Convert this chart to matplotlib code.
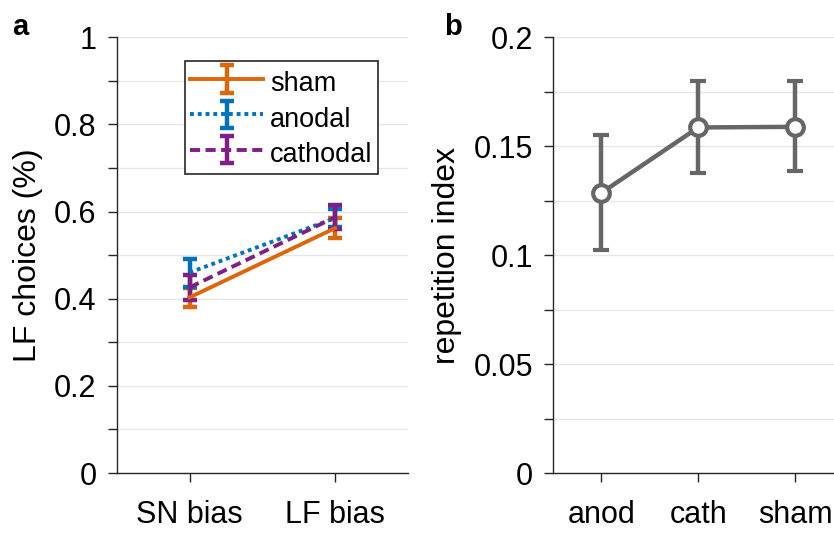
import numpy as np
import matplotlib
matplotlib.use("Agg")
import matplotlib.pyplot as plt

plt.rcParams['font.family'] = ['Liberation Sans', 'DejaVu Sans']

# panel a data
conditions = ['SN bias', 'LF bias']
groups = ['sham', 'anodal', 'cathodal']
sham_mean = [0.403, 0.562]
sham_err = [0.022, 0.023]
anodal_mean = [0.460, 0.585]
anodal_err = [0.032, 0.020]
cathodal_mean = [0.426, 0.587]
cathodal_err = [0.028, 0.028]
yticks_a = [0, 0.2, 0.4, 0.6, 0.8, 1]
ylabels_a = ['0', '0.2', '0.4', '0.6', '0.8', '1']

# panel b data
stim = ['anod', 'cath', 'sham']
rep_mean = [0.1286, 0.1586, 0.1589]
rep_lo = [0.1023, 0.1375, 0.1385]
rep_hi = [0.1550, 0.1800, 0.1798]
yticks_b = [0, 0.05, 0.1, 0.15, 0.2]
ylabels_b = ['0', '0.05', '0.1', '0.15', '0.2']

colors = {'sham': '#DD6608', 'anodal': '#0072BD', 'cathodal': '#7F1F86'}
styles = {'sham': '-', 'anodal': (0, (1, 1)), 'cathodal': (0, (2.6, 1.4))}
spine_col = '#262626'
grid_col = '#e6e6e6'

fig = plt.figure(figsize=(8.34, 5.4), dpi=100)
ax1 = fig.add_axes([0.140, 0.124, 0.349, 0.807])
ax2 = fig.add_axes([0.663, 0.124, 0.337, 0.807])


def style_axis(ax):
    for s in ['top', 'right']:
        ax.spines[s].set_visible(False)
    for s in ['left', 'bottom']:
        ax.spines[s].set_color(spine_col)
        ax.spines[s].set_linewidth(1.0)
    ax.tick_params(which='both', direction='out', length=6.5, width=1.0,
                   color=spine_col, labelsize=22, labelcolor='black')
    ax.tick_params(axis='y', pad=8)
    ax.tick_params(axis='x', pad=13)
    ax.grid(True, which='both', axis='y', color=grid_col, linewidth=1.0)
    ax.set_axisbelow(True)


x = np.arange(1, len(conditions) + 1)
for name, m, e in [('sham', sham_mean, sham_err),
                   ('anodal', anodal_mean, anodal_err),
                   ('cathodal', cathodal_mean, cathodal_err)]:
    ax1.errorbar(x, m, yerr=e, color=colors[name], linestyle=styles[name],
                 linewidth=2.8, elinewidth=3.2, capsize=5, capthick=3.2,
                 label=name)

style_axis(ax1)
ax1.set_xlim(0.5, 2.5)
ax1.set_ylim(0, 1)
ax1.set_xticks(x)
ax1.set_xticklabels(conditions)
ax1.set_yticks(yticks_a)
ax1.set_yticklabels(ylabels_a)
ax1.set_yticks(np.arange(0.1, 1.0, 0.2), minor=True)
ax1.set_ylabel('LF choices (%)', fontsize=23, labelpad=8)
leg = ax1.legend(loc='upper left', bbox_to_anchor=(0.234, 0.945), fontsize=19.5,
                 handlelength=2.7, handleheight=1.4, handletextpad=0.25,
                 borderpad=0.2, labelspacing=0.15, borderaxespad=0,
                 fancybox=False, framealpha=1)
leg.get_frame().set_edgecolor(spine_col)
leg.get_frame().set_linewidth(1.2)

xb = np.arange(1, len(stim) + 1)
yerr_b = [np.array(rep_mean) - np.array(rep_lo), np.array(rep_hi) - np.array(rep_mean)]
ax2.errorbar(xb, rep_mean, yerr=yerr_b, color='#666666', linewidth=3.2,
             elinewidth=3.2, capsize=5.5, capthick=3.2, marker='o',
             markersize=12, markerfacecolor='white', markeredgecolor='#666666',
             markeredgewidth=3)
style_axis(ax2)
ax2.set_xlim(0.5, 3.4)
ax2.set_ylim(0, 0.2)
ax2.set_xticks(xb)
ax2.set_xticklabels(stim)
ax2.set_yticks(yticks_b)
ax2.set_yticklabels(ylabels_b)
ax2.set_yticks(np.arange(0.025, 0.2, 0.05), minor=True)
ax2.set_ylabel('repetition index', fontsize=23, labelpad=8)

fig.text(0.014, 0.935, 'a', fontsize=21, fontweight='bold')
fig.text(0.533, 0.935, 'b', fontsize=21, fontweight='bold')

fig.savefig('out.png', dpi=100)
